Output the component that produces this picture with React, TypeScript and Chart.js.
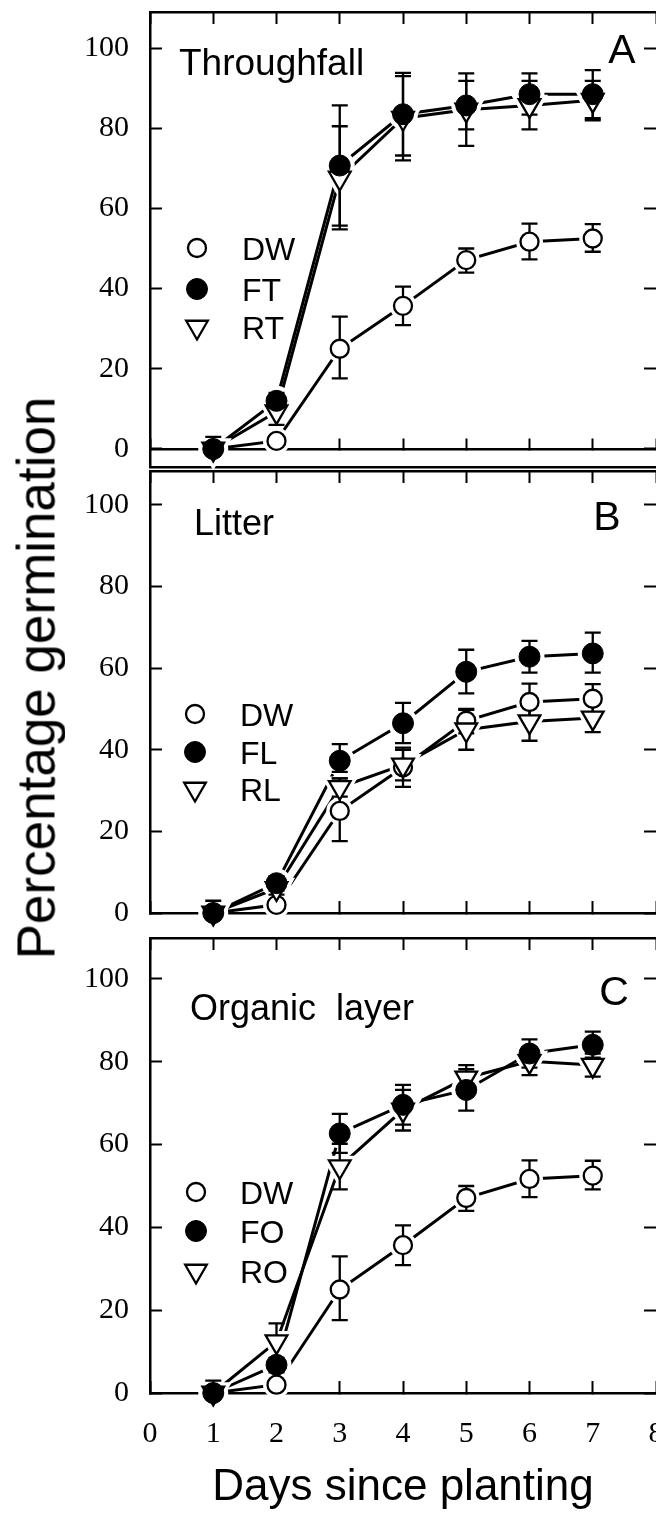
import React, { useEffect, useRef } from 'react';
import { Chart, registerables } from 'chart.js';
import { drawPoint } from 'chart.js/helpers';

Chart.register(...registerables);

// ---------------- data ----------------
const days = [1, 2, 3, 4, 5, 6, 7];
const xTickValues = [0, 1, 2, 3, 4, 5, 6, 7, 8];
const yTickValues = [0, 20, 40, 60, 80, 100];

// control (distilled water) – same in every panel
const dwMean = [0, 2, 25, 35.7, 47.1, 51.7, 52.5];
const dwLow = [0, 1, 17.6, 30.9, 44.0, 47.3, 49.2];
const dwHigh = [0, 3, 33.0, 40.5, 50.0, 56.2, 56.1];

// Panel A – throughfall
const ftMean = [0, 12, 70.7, 83.5, 85.7, 88.5, 88.5];
const ftLow = [0, 10, 55.7, 73.2, 79.7, 83.4, 82.5];
const ftHigh = [3, 14, 85.7, 93.8, 91.8, 93.7, 94.5];
const rtMean = [0, 9.3, 67.6, 82.5, 84.6, 85.7, 87];
const rtLow = [0, 6, 54.8, 72, 75.6, 79.7, 82];
const rtHigh = [0, 12.5, 80.5, 93, 93.7, 91.8, 91.8];

// Panel B – litter
const flMean = [0, 7.3, 37.3, 46.5, 59.1, 62.8, 63.6];
const flLow = [0, 5.5, 34.6, 41.6, 53.8, 58.9, 58.9];
const flHigh = [3, 9, 41.4, 51.5, 64.5, 66.7, 68.7];
const rlMean = [0, 6, 30.8, 36.3, 44.9, 46.9, 47.8];
const rlLow = [0, 4.5, 28.5, 32.5, 40.0, 42.2, 44.3];
const rlHigh = [0, 7.5, 33, 40, 49.8, 51.6, 51.3];

// Panel C – organic layer
const foMean = [0, 6.8, 62.7, 69.6, 73.2, 82.0, 84.1];
const foLow = [0, 5, 58, 64.8, 68.2, 78.6, 81];
const foHigh = [3, 8.5, 67.4, 74.4, 78.2, 85.4, 87.3];
const roMean = [0, 12.4, 54.7, 68.4, 76.1, 80.1, 79.2];
const roLow = [0, 8, 49.2, 63.4, 73, 76.8, 76.4];
const roHigh = [0, 16.8, 60.2, 73.2, 79.2, 83.4, 82];

const panelTitles = ['Throughfall', 'Litter', 'Organic  layer'];
const panelLetters = ['A', 'B', 'C'];
const legendA = ['DW', 'FT', 'RT'];
const legendB = ['DW', 'FL', 'RL'];
const legendC = ['DW', 'FO', 'RO'];
const xAxisTitle = 'Days since planting';
const yAxisTitle = 'Percentage germination';

// ---------------- styles ----------------
const markerStyles: any = {
  open: { pointStyle: 'circle', radius: 9, rotation: 0, fill: '#ffffff', borderWidth: 2.3, order: 12 },
  filled: { pointStyle: 'circle', radius: 10.5, rotation: 0, fill: '#000000', borderWidth: 1, order: 10 },
  tri: { pointStyle: 'triangle', radius: 12.5, rotation: 180, fill: '#ffffff', borderWidth: 2.3, order: 11 },
};

const CANVAS_W = 664;
const AREA_LEFT = 150;
const RIGHT_AXIS_W = 8;

const panels = [
  {
    series: [
      { label: legendA[0], kind: 'open', mean: dwMean, low: dwLow, high: dwHigh },
      { label: legendA[1], kind: 'filled', mean: ftMean, low: ftLow, high: ftHigh },
      { label: legendA[2], kind: 'tri', mean: rtMean, low: rtLow, high: rtHigh },
    ],
    canvasTop: 0, canvasHeight: 469, topAxisH: 12, bottomAxisH: 2,
    yMin: -4.5, yMax: 109, zeroLine: true, xLabels: false,
    text: {
      title: panelTitles[0], titleX: 179, titleY: 75, titleSize: 37,
      letter: panelLetters[0], letterX: 622, letterY: 63, letterSize: 41,
      legendX: 197, legendTextX: 242, legendY: [248, 289, 327],
    },
  },
  {
    series: [
      { label: legendB[0], kind: 'open', mean: dwMean, low: dwLow, high: dwHigh },
      { label: legendB[1], kind: 'filled', mean: flMean, low: flLow, high: flHigh },
      { label: legendB[2], kind: 'tri', mean: rlMean, low: rlLow, high: rlHigh },
    ],
    canvasTop: 469, canvasHeight: 466, topAxisH: 2, bottomAxisH: 22,
    yMin: 0, yMax: 108.3, zeroLine: false, xLabels: false,
    text: {
      title: panelTitles[1], titleX: 194, titleY: 535, titleSize: 36,
      letter: panelLetters[1], letterX: 607, letterY: 530, letterSize: 41,
      legendX: 195, legendTextX: 240, legendY: [714, 752, 789],
    },
  },
  {
    series: [
      { label: legendC[0], kind: 'open', mean: dwMean, low: dwLow, high: dwHigh },
      { label: legendC[1], kind: 'filled', mean: foMean, low: foLow, high: foHigh },
      { label: legendC[2], kind: 'tri', mean: roMean, low: roLow, high: roHigh },
    ],
    canvasTop: 915, canvasHeight: 599, topAxisH: 23, bottomAxisH: 121,
    yMin: 0, yMax: 109.9, zeroLine: false, xLabels: true,
    text: {
      title: panelTitles[2], titleX: 190, titleY: 1020, titleSize: 36,
      letter: panelLetters[2], letterX: 614, letterY: 1005, letterSize: 41,
      legendX: 196, legendTextX: 240, legendY: [1192, 1231, 1271],
    },
  },
];

// ---------------- plugins ----------------
const errorBarPlugin = {
  id: 'errorBars',
  beforeDatasetsDraw(chart: any) {
    chart._errDrawn = false;
  },
  beforeDatasetDraw(chart: any, args: any) {
    const ds = chart.data.datasets[args.index];
    if (ds.role !== 'marker' || chart._errDrawn) return;
    chart._errDrawn = true;
    const { ctx } = chart;
    const xs = chart.scales.x;
    const ys = chart.scales.y;
    ctx.save();
    ctx.strokeStyle = '#000';
    ctx.lineWidth = 2.3;
    const cap = 8;
    chart.data.datasets.forEach((d: any) => {
      if (d.role !== 'marker') return;
      d.data.forEach((p: any, j: number) => {
        const lo = d.errLow[j];
        const hi = d.errHigh[j];
        if (hi - lo <= 0) return;
        const px = xs.getPixelForValue(p.x);
        const y1 = ys.getPixelForValue(lo);
        const y2 = ys.getPixelForValue(hi);
        ctx.beginPath();
        ctx.moveTo(px, y1);
        ctx.lineTo(px, y2);
        if (lo < p.y) {
          ctx.moveTo(px - cap, y1);
          ctx.lineTo(px + cap, y1);
        }
        if (hi > p.y) {
          ctx.moveTo(px - cap, y2);
          ctx.lineTo(px + cap, y2);
        }
        ctx.stroke();
      });
    });
    ctx.restore();
  },
};

const panelTextPlugin = {
  id: 'panelText',
  afterDraw(chart: any, _args: any, opts: any) {
    const { ctx } = chart;
    const top = opts.canvasTop;
    ctx.save();
    ctx.fillStyle = '#000';
    ctx.textBaseline = 'alphabetic';
    ctx.textAlign = 'left';
    ctx.font = `${opts.titleSize}px "Liberation Sans", Arial, sans-serif`;
    ctx.fillText(opts.title, opts.titleX, opts.titleY - top);
    ctx.textAlign = 'center';
    ctx.font = `${opts.letterSize}px "Liberation Sans", Arial, sans-serif`;
    ctx.fillText(opts.letter, opts.letterX, opts.letterY - top);

    const markers = chart.data.datasets.filter((d: any) => d.role === 'marker');
    markers.forEach((d: any, i: number) => {
      const y = opts.legendY[i] - top;
      ctx.fillStyle = d.pointBackgroundColor;
      ctx.strokeStyle = d.pointBorderColor;
      ctx.lineWidth = d.pointBorderWidth;
      drawPoint(ctx, {
        pointStyle: d.pointStyle,
        rotation: d.pointRotation,
        radius: d.pointRadius,
        borderWidth: d.pointBorderWidth,
      } as any, opts.legendX, y);
      ctx.fillStyle = '#000';
      ctx.font = '32px "Liberation Sans", Arial, sans-serif';
      ctx.textAlign = 'left';
      ctx.textBaseline = 'alphabetic';
      ctx.fillText(d.label, opts.legendTextX, y + 11.5);
    });
    ctx.restore();
  },
};

// ---------------- config builder ----------------
function buildDatasets(series: any[]) {
  const lines: any[] = [];
  const halos: any[] = [];
  const markers: any[] = [];
  series.forEach((s: any, i: number) => {
    const m = markerStyles[s.kind];
    const pts = days.map((d, j) => ({ x: d, y: s.mean[j] }));
    lines.push({
      role: 'line', label: s.label + ' line', data: pts,
      borderColor: '#000', borderWidth: 3, pointRadius: 0, tension: 0,
      fill: false, order: 30 + i, clip: false,
    });
    halos.push({
      role: 'halo', label: s.label + ' halo', data: pts, showLine: false,
      pointStyle: m.pointStyle, pointRotation: m.rotation, pointRadius: m.radius,
      pointBackgroundColor: '#fff', pointBorderColor: '#fff', pointBorderWidth: 9,
      order: 20 + i, clip: false,
    });
    markers.push({
      role: 'marker', label: s.label, data: pts, showLine: false,
      pointStyle: m.pointStyle, pointRotation: m.rotation, pointRadius: m.radius,
      pointBackgroundColor: m.fill, pointBorderColor: '#000', pointBorderWidth: m.borderWidth,
      order: m.order, clip: false, errLow: s.low, errHigh: s.high,
    });
  });
  return [...lines, ...halos, ...markers];
}

const setXTicks = (s: any) => { s.ticks = xTickValues.map((v) => ({ value: v })); };
const setYTicks = (s: any) => { s.ticks = yTickValues.map((v) => ({ value: v })); };
const zeroPad = (s: any) => {
  s.paddingTop = 0; s.paddingBottom = 0; s.paddingLeft = 0; s.paddingRight = 0;
};

const tickGrid = {
  drawOnChartArea: false, drawTicks: true, tickLength: -12, tickWidth: 2,
  tickColor: '#000', color: '#000',
};
const axisBorder = { display: true, color: '#000', width: 2.5 };
const serifTicks = { family: '"Liberation Serif", "Times New Roman", serif', size: 30 };

function buildConfig(p: any): any {
  const scales: any = {
    x: {
      type: 'linear', axis: 'x', position: 'bottom', min: 0, max: 8,
      afterBuildTicks: setXTicks,
      afterFit: (s: any) => { s.height = p.bottomAxisH; zeroPad(s); },
      grid: p.zeroLine ? { display: false } : tickGrid,
      border: axisBorder,
      ticks: {
        display: p.xLabels, padding: 35, color: '#000', font: serifTicks,
        autoSkip: false, maxRotation: 0,
      },
      title: {
        display: p.xLabels, text: xAxisTitle, color: '#000',
        font: { family: '"Liberation Sans", Arial, sans-serif', size: 44, lineHeight: 1 },
        padding: { top: 0, bottom: 4 },
      },
      z: 1,
    },
    xTop: {
      type: 'linear', axis: 'x', position: 'top', min: 0, max: 8,
      afterBuildTicks: setXTicks,
      afterFit: (s: any) => { s.height = p.topAxisH; zeroPad(s); },
      grid: tickGrid, border: axisBorder, ticks: { display: false },
      z: 1,
    },
    y: {
      type: 'linear', axis: 'y', position: 'left', min: p.yMin, max: p.yMax,
      afterBuildTicks: setYTicks,
      afterFit: (s: any) => { s.width = AREA_LEFT; zeroPad(s); },
      grid: tickGrid, border: axisBorder,
      ticks: { padding: 33, color: '#000', font: serifTicks },
      z: 1,
    },
    yRight: {
      type: 'linear', axis: 'y', position: 'right', min: p.yMin, max: p.yMax,
      afterBuildTicks: setYTicks,
      afterFit: (s: any) => { s.width = RIGHT_AXIS_W; zeroPad(s); },
      grid: tickGrid, border: { display: false }, ticks: { display: false },
      z: 1,
    },
  };
  if (p.zeroLine) {
    scales.xZero = {
      type: 'linear', axis: 'x', position: { y: 0 }, min: 0, max: 8,
      afterBuildTicks: setXTicks,
      afterFit: (s: any) => { s.height = 0; zeroPad(s); },
      grid: tickGrid, border: axisBorder, ticks: { display: false },
      z: 1,
    };
  }
  return {
    type: 'line',
    data: { datasets: buildDatasets(p.series) },
    options: {
      responsive: false,
      maintainAspectRatio: false,
      animation: false,
      events: [],
      layout: { padding: 0, autoPadding: false },
      plugins: {
        legend: { display: false },
        tooltip: { enabled: false },
        title: { display: false },
        panelText: { ...p.text, canvasTop: p.canvasTop },
      },
      scales,
    },
    plugins: [errorBarPlugin, panelTextPlugin],
  };
}

export default function App() {
  const r0 = useRef<HTMLCanvasElement>(null);
  const r1 = useRef<HTMLCanvasElement>(null);
  const r2 = useRef<HTMLCanvasElement>(null);
  const refs = [r0, r1, r2];

  useEffect(() => {
    document.body.style.margin = '0';
    document.body.style.background = '#fff';
    const charts = panels.map((p, i) => new Chart(refs[i].current as HTMLCanvasElement, buildConfig(p)));
    return () => charts.forEach((c) => c.destroy());
  }, []);

  return (
    <div style={{ position: 'relative', width: 656, height: 1514, overflow: 'hidden', background: '#fff' }}>
      {panels.map((p, i) => (
        <canvas
          key={i}
          ref={refs[i]}
          width={CANVAS_W}
          height={p.canvasHeight}
          style={{ position: 'absolute', left: 0, top: p.canvasTop, width: CANVAS_W, height: p.canvasHeight }}
        />
      ))}
      <div
        style={{
          position: 'absolute', left: 36, top: 678,
          transform: 'translate(-50%, -50%) rotate(-90deg)',
          fontFamily: '"Liberation Sans", Arial, sans-serif', fontSize: 53, lineHeight: 1,
          whiteSpace: 'nowrap', color: '#000',
        }}
      >
        {yAxisTitle}
      </div>
    </div>
  );
}
